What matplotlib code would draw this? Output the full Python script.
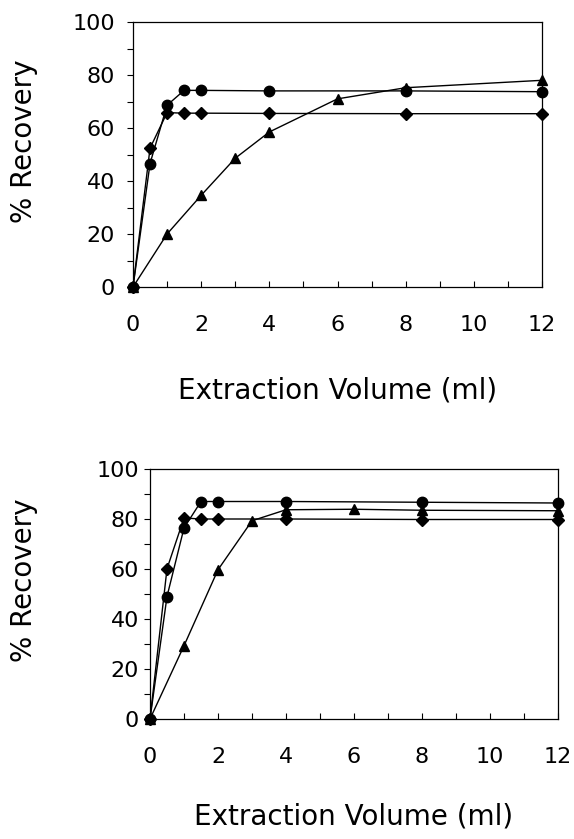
import matplotlib
matplotlib.use("Agg")
import matplotlib.pyplot as plt
from matplotlib.ticker import MultipleLocator

plt.rcParams['font.family'] = ['DejaVu Sans']

# Panel A (top)
xA_circ = [0, 0.5, 1, 1.5, 2, 4, 8, 12]
yA_circ = [0, 46.6, 68.6, 74.2, 74.2, 74.0, 74.0, 73.7]
xA_diam = [0, 0.5, 1, 1.5, 2, 4, 8, 12]
yA_diam = [0, 52.4, 65.8, 65.6, 65.6, 65.5, 65.4, 65.4]
xA_tri = [0, 1, 2, 3, 4, 6, 8, 12]
yA_tri = [0, 20.0, 34.6, 48.6, 58.5, 71.0, 75.2, 78.0]

# Panel B (bottom)
xB_circ = [0, 0.5, 1, 1.5, 2, 4, 8, 12]
yB_circ = [0, 49.0, 76.4, 87.0, 87.0, 87.0, 86.7, 86.4]
xB_diam = [0, 0.5, 1, 1.5, 2, 4, 8, 12]
yB_diam = [0, 60.1, 80.4, 80.0, 80.0, 80.0, 79.8, 79.8]
xB_tri = [0, 1, 2, 3, 4, 6, 8, 12]
yB_tri = [0, 29.3, 59.7, 79.3, 83.7, 83.9, 83.5, 83.3]

x_ticks = [0, 2, 4, 6, 8, 10, 12]
y_ticks = [0, 20, 40, 60, 80, 100]
x_label = "Extraction Volume (ml)"
y_label = "% Recovery"

W, H = 574, 839
fig = plt.figure(figsize=(W / 100, H / 100), dpi=100)


def make_axes(left, right, top, bottom):
    return fig.add_axes([left / W, 1 - bottom / H, (right - left) / W, (bottom - top) / H])


def style(ax, ypad, xl_top_px, yl_center_px, box):
    left, right, top, bottom = box
    ax.set_xlim(0, 12)
    ax.set_ylim(0, 100)
    ax.set_xticks(x_ticks)
    ax.set_yticks(y_ticks)
    ax.xaxis.set_minor_locator(MultipleLocator(1))
    ax.yaxis.set_minor_locator(MultipleLocator(10))
    ax.tick_params(axis='x', which='both', direction='in', length=4, width=0.8,
                   pad=20.5, labelsize=16)
    ax.tick_params(axis='y', which='both', direction='out', length=4, width=0.8,
                   pad=ypad, labelsize=16)
    for s in ax.spines.values():
        s.set_linewidth(0.9)
    ax.set_xlabel(x_label, fontsize=20, va='top', ha='center')
    ax.set_ylabel(y_label, fontsize=20, va='center', ha='center')
    h = bottom - top
    w = right - left
    ax.xaxis.set_label_coords(0.5, -(xl_top_px - bottom) / h)
    ax.yaxis.set_label_coords(-(left - 24) / w, (bottom - yl_center_px) / h)


def plot_series(ax, xc, yc, xd, yd, xt, yt):
    kw = dict(color='black', linewidth=1.0, clip_on=False, zorder=3)
    ax.plot(xc, yc, marker='o', markersize=7.5, **kw)
    ax.plot(xd, yd, marker='D', markersize=6, **kw)
    ax.plot(xt, yt, marker='^', markersize=7.5, **kw)


boxA = (133, 542, 22, 287)
axA = make_axes(*boxA)
plot_series(axA, xA_circ, yA_circ, xA_diam, yA_diam, xA_tri, yA_tri)
style(axA, 9.0, 377, 141, boxA)

boxB = (150, 558, 469, 719)
axB = make_axes(*boxB)
plot_series(axB, xB_circ, yB_circ, xB_diam, yB_diam, xB_tri, yB_tri)
style(axB, 4.0, 803, 580, boxB)

fig.savefig("out.png", dpi=100)
